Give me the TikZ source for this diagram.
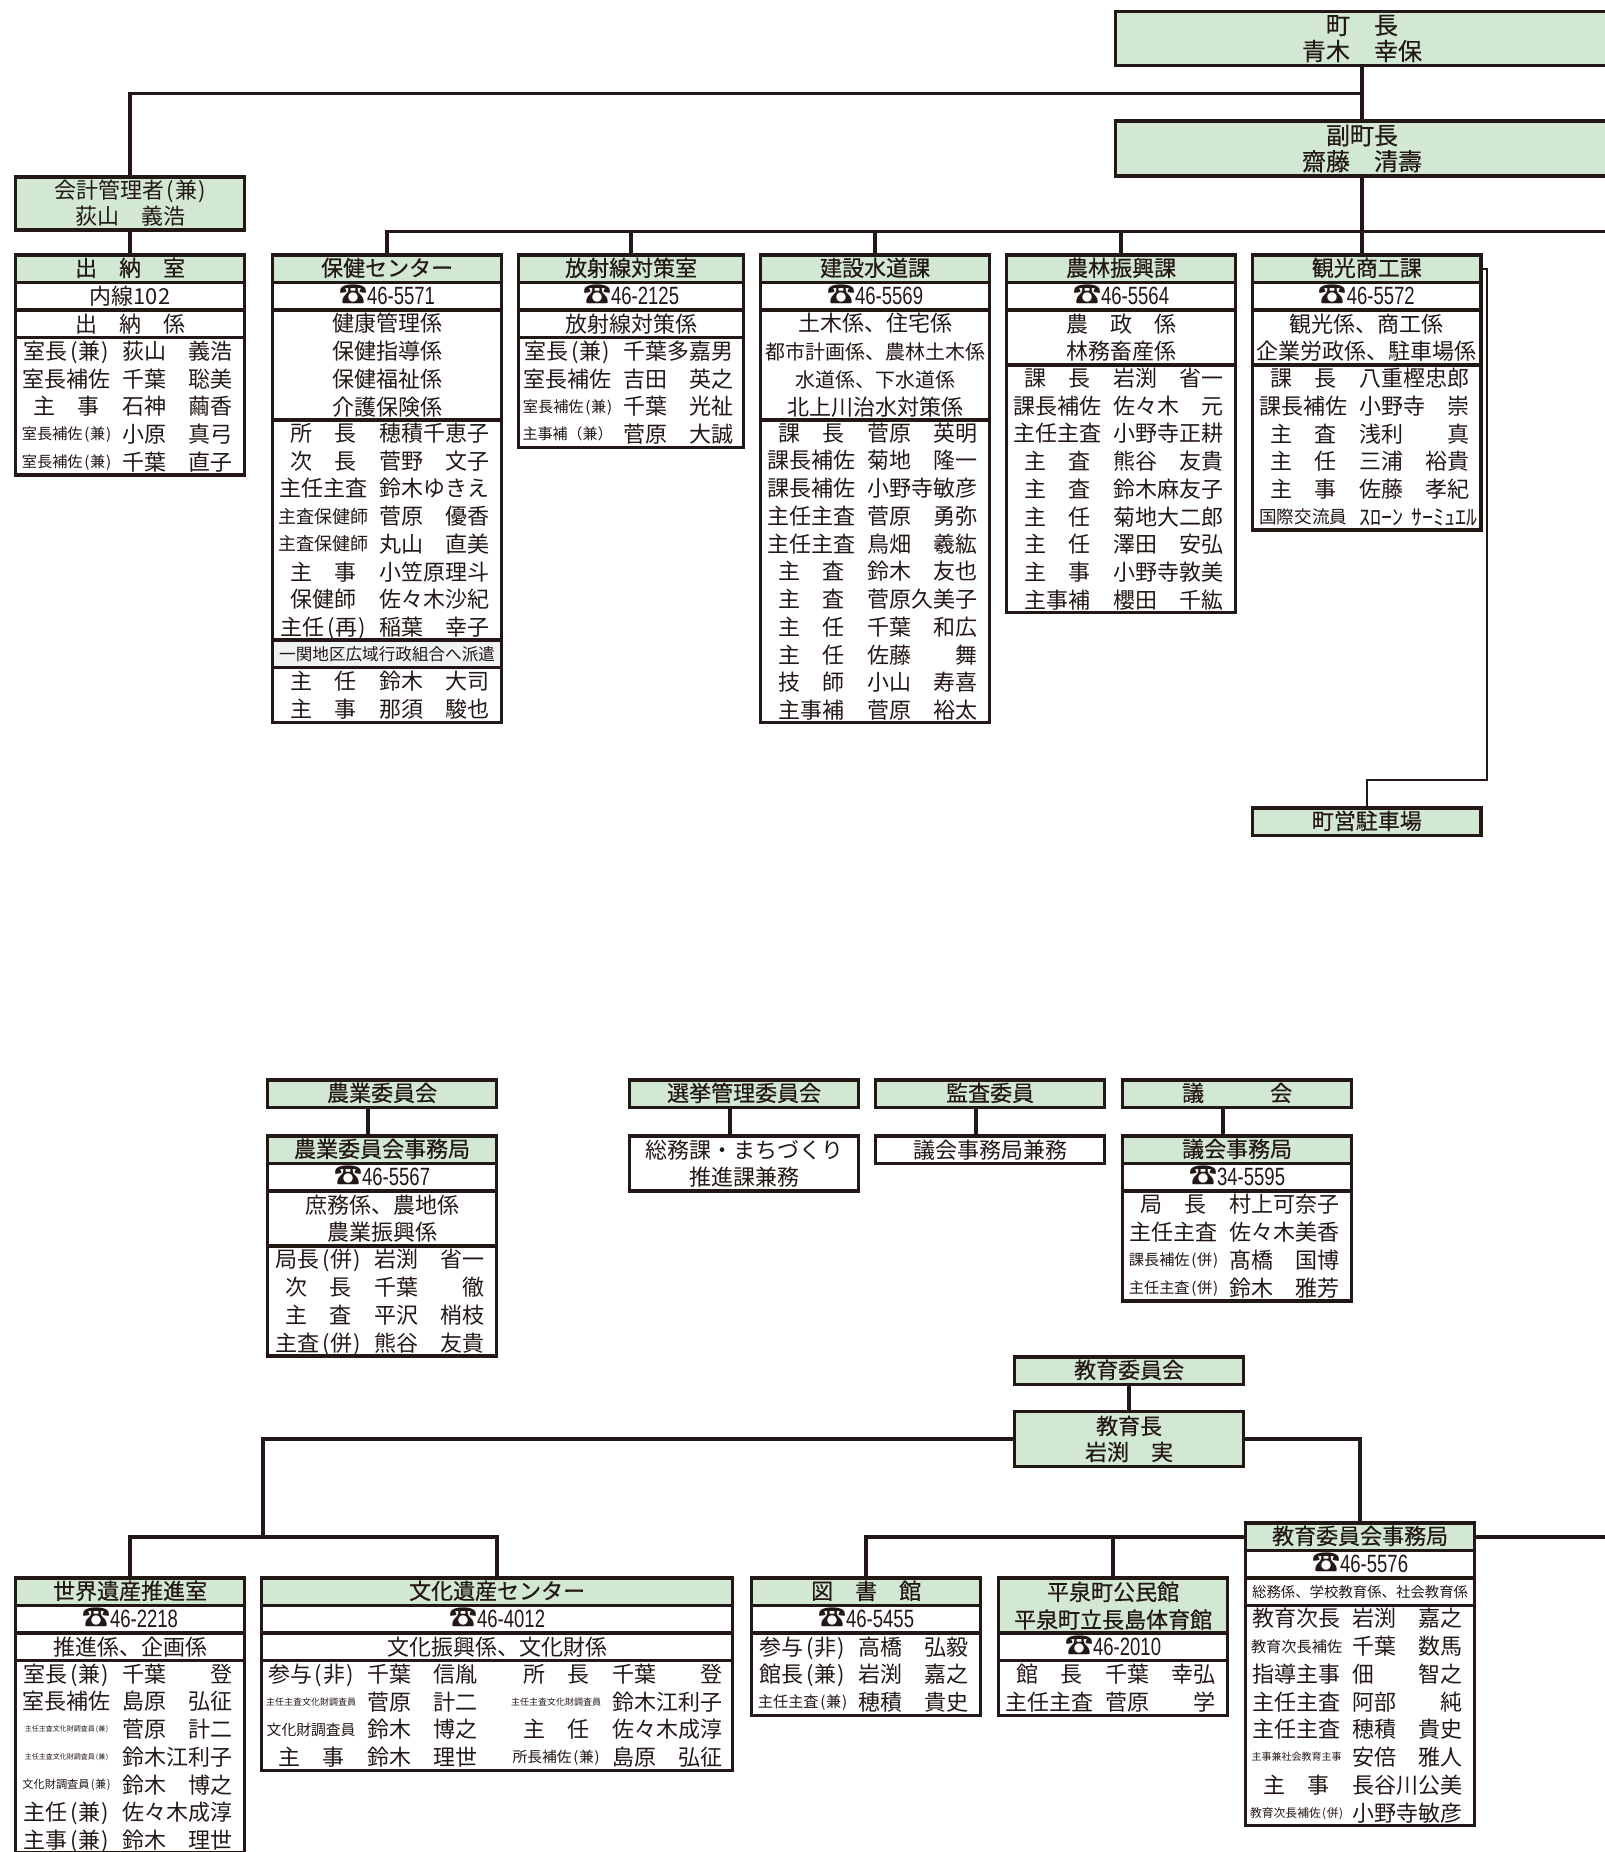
\documentclass[tikz,border=0pt]{standalone}
\usepackage{fontspec}
\usetikzlibrary{positioning}
\setmainfont{Noto Sans CJK JP}
\newfontfamily\headfont[FakeBold=0.4]{Noto Sans CJK JP}
\newfontfamily\telfont[FakeStretch=0.74]{Liberation Sans}
\definecolor{inkline}{HTML}{231815}
\definecolor{headgreen}{HTML}{D3E8D3}
\definecolor{notegrey}{HTML}{F1F2F4}
\newcommand{\stf}[2]{\makebox[44pt][c]{#1}\kern6pt\makebox[55pt][l]{#2}\kern2.5pt}
\newcommand{\smt}[2]{\raisebox{\dimexpr(11pt-#1pt)*2/5\relax}{\fontsize{#1}{#1}\selectfont #2}}
\newcommand{\tel}[1]{\smash{\fontsize{14}{14}\selectfont ☎}{\fontsize{12.5}{13}\telfont #1}}
\newcommand{\pn}[1]{\kern.11em(\kern.05em#1\kern.05em)}
\tikzset{
  cell/.style={draw=inkline, line width=1.75pt, inner sep=0pt, outer sep=0pt, align=center,
    text=inkline, minimum width=#1, minimum height=13.75pt, font=\fontsize{11}{13.87}\selectfont},
  cell/.default=114.6pt,
  head/.style={cell=#1, fill=headgreen, text depth=1.8pt, font=\fontsize{11}{13.87}\selectfont\headfont},
  head/.default=114.6pt,
  rowsn/.style={minimum height=#1*13.75pt, text depth=0.7pt},
  conn/.style={draw=inkline, line width=1.75pt},
  thinconn/.style={draw=inkline, line width=0.75pt}
}

\begin{document}
\begin{tikzpicture}[x=0.5pt, y=-0.5pt, node distance=0pt]
        \useasboundingbox (0,0) rectangle (1605,1852);

        % top of the chart
        \node[head=246.5pt, minimum height=27pt, text depth=1pt, anchor=north, font=\fontsize{12}{13}\selectfont\headfont] (chou) at (1362,11.5) {町　長\\青木　幸保};
        \node[head=246.5pt, minimum height=27.5pt, text depth=1pt, anchor=north, font=\fontsize{12}{13}\selectfont\headfont] (fuku) at (1362,121) {副町長\\齋藤　清壽};
        \node[cell, fill=headgreen, minimum height=26.5pt, anchor=north west, font=\fontsize{11}{13}\selectfont] (kaikei) at (15.5,177) {会計管理者\pn{兼}\\荻山　義浩};

        % first row of sections
        \node[head, anchor=north west] (suitou) at (15.5,255) {出　納　室};
        \node[cell] (suitou1) [below=of suitou] {内線102};
        \node[cell] (suitou2) [below=of suitou1] {出　納　係};
        \node[cell, rowsn=5] (suitou3) [below=of suitou2] {\stf{室長\pn{兼}}{荻山　義浩}\\\stf{室長補佐}{千葉　聡美}\\\stf{主　事}{石神　繭香}\\\stf{\smt{7.6}{室長補佐\pn{兼}}}{小原　真弓}\\\stf{\smt{7.6}{室長補佐\pn{兼}}}{千葉　直子}};

        \node[head, anchor=north west] (hoken) at (272.5,255) {保健センター};
        \node[cell] (hoken1) [below=of hoken] {\tel{46-5571}};
        \node[cell, rowsn=4] (hoken2) [below=of hoken1] {健康管理係\\保健指導係\\保健福祉係\\介護保険係};
        \node[cell, rowsn=8] (hoken3) [below=of hoken2] {\stf{所　長}{穂積千恵子}\\\stf{次　長}{菅野　文子}\\\stf{主任主査}{鈴木ゆきえ}\\\stf{\smt{9}{主査保健師}}{菅原　優香}\\\stf{\smt{9}{主査保健師}}{丸山　直美}\\\stf{主　事}{小笠原理斗}\\\stf{保健師}{佐々木沙紀}\\\stf{主任\pn{再}}{稲葉　幸子}};
        \node[cell, fill=notegrey, font=\fontsize{8.3}{13.87}\selectfont] (hoken4) [below=of hoken3] {一関地区広域行政組合へ派遣};
        \node[cell, rowsn=2] (hoken5) [below=of hoken4] {\stf{主　任}{鈴木　大司}\\\stf{主　事}{那須　駿也}};

        \node[head=112.6pt, anchor=north west] (housha) at (518.5,255) {放射線対策室};
        \node[cell=112.6pt] (housha1) [below=of housha] {\tel{46-2125}};
        \node[cell=112.6pt] (housha2) [below=of housha1] {放射線対策係};
        \node[cell=112.6pt, rowsn=4] (housha3) [below=of housha2] {\stf{室長\pn{兼}}{千葉多嘉男}\\\stf{室長補佐}{吉田　英之}\\\stf{\smt{7.6}{室長補佐\pn{兼}}}{千葉　光祉}\\\stf{\smt{7.5}{主事補（兼）}}{菅原　大誠}};

        \node[head, anchor=north west] (kensetsu) at (760.5,255) {建設水道課};
        \node[cell] (kensetsu1) [below=of kensetsu] {\tel{46-5569}};
        \node[cell, rowsn=4] (kensetsu2) [below=of kensetsu1] {土木係、住宅係\\{\fontsize{10}{13.87}\selectfont 都市計画係、農林土木係}\\{\fontsize{10}{13.87}\selectfont 水道係、下水道係}\\北上川治水対策係};
        \node[cell, rowsn=11] (kensetsu3) [below=of kensetsu2] {\stf{課　長}{菅原　英明}\\\stf{課長補佐}{菊地　隆一}\\\stf{課長補佐}{小野寺敏彦}\\\stf{主任主査}{菅原　勇弥}\\\stf{主任主査}{鳥畑　羲紘}\\\stf{主　査}{鈴木　友也}\\\stf{主　査}{菅原久美子}\\\stf{主　任}{千葉　和広}\\\stf{主　任}{佐藤　　舞}\\\stf{技　師}{小山　寿喜}\\\stf{主事補}{菅原　裕太}};

        \node[head, anchor=north west] (nourin) at (1006.5,255) {農林振興課};
        \node[cell] (nourin1) [below=of nourin] {\tel{46-5564}};
        \node[cell, rowsn=2] (nourin2) [below=of nourin1] {農　政　係\\林務畜産係};
        \node[cell, rowsn=9] (nourin3) [below=of nourin2] {\stf{課　長}{岩渕　省一}\\\stf{課長補佐}{佐々木　元}\\\stf{主任主査}{小野寺正耕}\\\stf{主　査}{熊谷　友貴}\\\stf{主　査}{鈴木麻友子}\\\stf{主　任}{菊地大二郎}\\\stf{主　任}{澤田　安弘}\\\stf{主　事}{小野寺敦美}\\\stf{主事補}{櫻田　千紘}};

        \node[head=114.3pt, anchor=north west] (kankou) at (1252.5,255) {観光商工課};
        \node[cell=114.3pt] (kankou1) [below=of kankou] {\tel{46-5572}};
        \node[cell=114.3pt, rowsn=2] (kankou2) [below=of kankou1] {観光係、商工係\\企業労政係、駐車場係};
        \node[cell=114.3pt, rowsn=6] (kankou3) [below=of kankou2] {\stf{課　長}{八重樫忠郎}\\\stf{課長補佐}{小野寺　崇}\\\stf{主　査}{浅利　　真}\\\stf{主　任}{三浦　裕貴}\\\stf{主　事}{佐藤　孝紀}\\\stf{\smt{8.8}{国際交流員}}{ｽﾛｰﾝ\kern4pt ｻｰﾐｭｴﾙ}};
        \node[head=114.3pt, anchor=north west] (chusha) at (1252.5,808) {町営駐車場};

        % committees
        \node[head, anchor=north west] (nougyou) at (267.5,1080) {農業委員会};
        \node[head, anchor=north west] (nougyou1) at (267.5,1136) {農業委員会事務局};
        \node[cell] (nougyou2) [below=of nougyou1] {\tel{46-5567}};
        \node[cell, rowsn=2] (nougyou3) [below=of nougyou2] {庶務係、農地係\\農業振興係};
        \node[cell, rowsn=4] (nougyou4) [below=of nougyou3] {\stf{局長\pn{併}}{岩渕　省一}\\\stf{次　長}{千葉　　徹}\\\stf{主　査}{平沢　梢枝}\\\stf{主査\pn{併}}{熊谷　友貴}};

        \node[head, anchor=north west] (senkyo) at (629.5,1080) {選挙管理委員会};
        \node[cell, rowsn=2, anchor=north west] (senkyo1) at (629.5,1136) {総務課・まちづくり\\推進課兼務};

        \node[head, anchor=north west] (kansa) at (875.5,1080) {監査委員};
        \node[cell, anchor=north west] (kansa1) at (875.5,1136) {議会事務局兼務};

        \node[head, anchor=north west] (gikai) at (1122.5,1080) {議　　　会};
        \node[head, anchor=north west] (gikai1) at (1122.5,1136) {議会事務局};
        \node[cell] (gikai2) [below=of gikai1] {\tel{34-5595}};
        \node[cell, rowsn=4] (gikai3) [below=of gikai2] {\stf{局　長}{村上可奈子}\\\stf{主任主査}{佐々木美香}\\\stf{\smt{7.6}{課長補佐\pn{併}}}{髙橋　国博}\\\stf{\smt{7.6}{主任主査\pn{併}}}{鈴木　雅芳}};

        % education board
        \node[head, anchor=north west] (kyoiku) at (1014.5,1357) {教育委員会};
        \node[head, minimum height=27.5pt, text depth=1pt, anchor=north west, font=\fontsize{11}{13}\selectfont\headfont] (kyoikucho) at (1014.5,1411.5) {教育長\\岩渕　実};

        \node[head, anchor=north west] (jimu) at (1245.5,1523) {教育委員会事務局};
        \node[cell] (jimu1) [below=of jimu] {\tel{46-5576}};
        \node[cell, font=\fontsize{7.2}{13.87}\selectfont] (jimu2) [below=of jimu1] {総務係、学校教育係、社会教育係};
        \node[cell, rowsn=8] (jimu3) [below=of jimu2] {\stf{教育次長}{岩渕　嘉之}\\\stf{\smt{7.6}{教育次長補佐}}{千葉　数馬}\\\stf{指導主事}{佃　　智之}\\\stf{主任主査}{阿部　　純}\\\stf{主任主査}{穂積　貴史}\\\stf{\smt{5}{主事兼社会教育主事}}{安倍　雅人}\\\stf{主　事}{長谷川公美}\\\stf{\smt{5.9}{教育次長補佐\pn{併}}}{小野寺敏彦}};

        \node[head, anchor=north west] (sekai) at (15.5,1578) {世界遺産推進室};
        \node[cell] (sekai1) [below=of sekai] {\tel{46-2218}};
        \node[cell] (sekai2) [below=of sekai1] {推進係、企画係};
        \node[cell, rowsn=7] (sekai3) [below=of sekai2] {\stf{室長\pn{兼}}{千葉　　登}\\\stf{室長補佐}{島原　弘征}\\\stf{\smt{3.5}{主任主査文化財調査員\pn{兼}}}{菅原　計二}\\\stf{\smt{3.5}{主任主査文化財調査員\pn{兼}}}{鈴木江利子}\\\stf{\smt{5.6}{文化財調査員\pn{兼}}}{鈴木　博之}\\\stf{主任\pn{兼}}{佐々木成淳}\\\stf{主事\pn{兼}}{鈴木　理世}};

        \node[head=235.6pt, anchor=north west] (bunka) at (261.5,1578) {文化遺産センター};
        \node[cell=235.6pt] (bunka1) [below=of bunka] {\tel{46-4012}};
        \node[cell=235.6pt] (bunka2) [below=of bunka1] {文化振興係、文化財係};
        \node[cell=235.6pt, rowsn=4] (bunka3) [below=of bunka2] {\stf{参与\pn{非}}{千葉　信胤}\kern15pt\stf{所　長}{千葉　　登}\\\stf{\smt{4.5}{主任主査文化財調査員}}{菅原　計二}\kern15pt\stf{\smt{4.5}{主任主査文化財調査員}}{鈴木江利子}\\\stf{\smt{7.4}{文化財調査員}}{鈴木　博之}\kern15pt\stf{主　任}{佐々木成淳}\\\stf{主　事}{鈴木　理世}\kern15pt\stf{\smt{7.4}{所長補佐\pn{兼}}}{島原　弘征}};

        \node[head, anchor=north west] (tosho) at (751.5,1578) {図　書　館};
        \node[cell] (tosho1) [below=of tosho] {\tel{46-5455}};
        \node[cell, rowsn=3] (tosho2) [below=of tosho1] {\stf{参与\pn{非}}{高橋　弘毅}\\\stf{館長\pn{兼}}{岩渕　嘉之}\\\stf{\smt{7.6}{主任主査\pn{兼}}}{穂積　貴史}};

        \node[head, rowsn=2, anchor=north west] (koumin) at (998.5,1578) {平泉町公民館\\平泉町立長島体育館};
        \node[cell] (koumin1) [below=of koumin] {\tel{46-2010}};
        \node[cell, rowsn=2] (koumin2) [below=of koumin1] {\stf{館　長}{千葉　幸弘}\\\stf{主任主査}{菅原　　学}};

        % connectors
        \coordinate (busKaikei) at (1362,93.5);
        \coordinate (busKa) at (1612,231.5);
        \coordinate (chushaBend) at (1487,780);
        \coordinate (busBunka) at (263,1537);
        \coordinate (edgeJimu) at (1612,1537);

        \path[conn]
        (chou.south) edge (fuku.north)
        (kaikei.south) edge (suitou.north)
        (housha.north) edge (housha.north |- busKa)
        (kensetsu.north) edge (kensetsu.north |- busKa)
        (nourin.north) edge (nourin.north |- busKa)
        (fuku.south) edge (fuku.south |- kankou.north)
        (kyoiku.south) edge (kyoikucho.north)
        (koumin.north) edge (koumin.north |- jimu.west)
        (jimu.east) edge (jimu.east -| edgeJimu);

        \draw[conn] (kaikei.north) |- (busKaikei);
        \draw[conn] (hoken.north) |- (busKa);
        \draw[conn] ([xshift=-7pt]nougyou.south) -- ([xshift=-7pt]nougyou1.north);
        \draw[conn] ([xshift=-7pt]senkyo.south) -- ([xshift=-7pt]senkyo1.north);
        \draw[conn] ([xshift=-7pt]kansa.south) -- ([xshift=-7pt]kansa1.north);
        \draw[conn] ([xshift=-7pt]gikai.south) -- ([xshift=-7pt]gikai1.north);
        \draw[conn] (kyoikucho.west) -| (busBunka);
        \draw[conn] (sekai.north) |- (busBunka) -| (bunka.north);
        \draw[conn] (kyoikucho.east) -| (jimu.north);
        \draw[conn] (tosho.north) |- (jimu.west);
        \draw[thinconn] (kankou.east) -| (chushaBend) -- (chushaBend -| chusha.north) -- (chusha.north);
\end{tikzpicture}
\end{document}
